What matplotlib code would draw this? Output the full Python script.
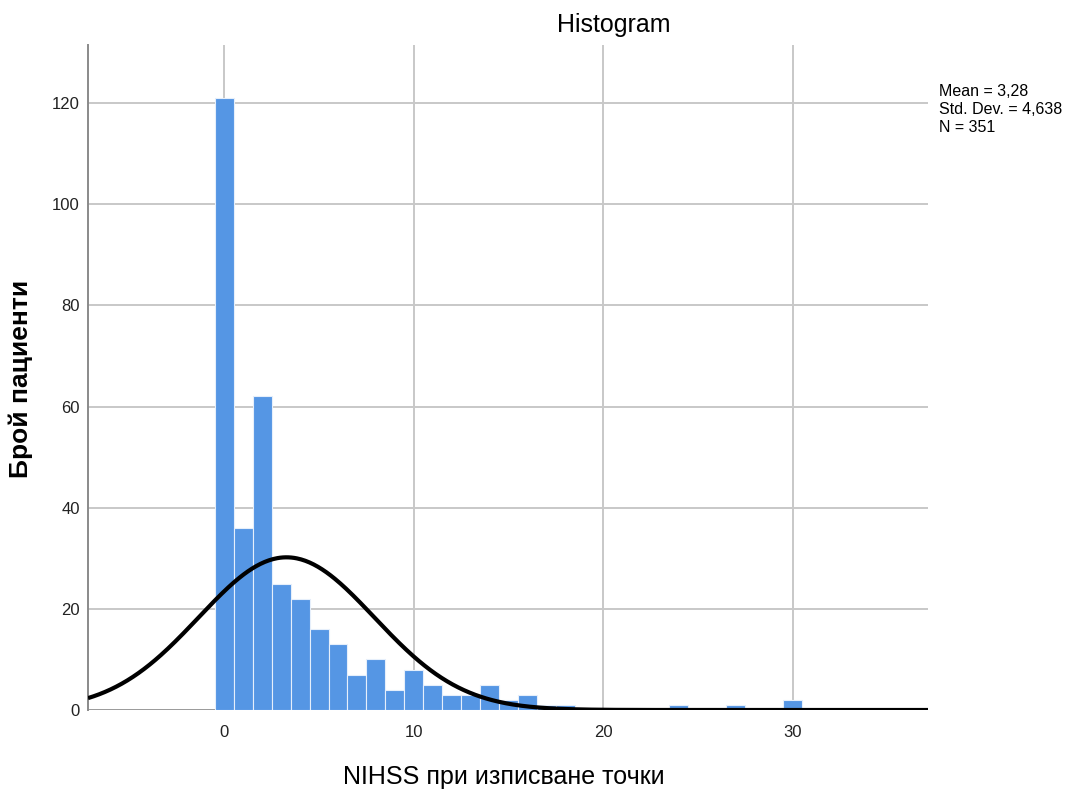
import numpy as np
import matplotlib
matplotlib.use("Agg")
import matplotlib.pyplot as plt

plt.rcParams['font.family'] = ['Liberation Sans', 'DejaVu Sans']

# Data (bin centres, counts)
scores = [0, 1, 2, 3, 4, 5, 6, 7, 8, 9, 10, 11, 12, 13, 14, 15, 16, 17, 18, 24, 27, 30]
counts = [121, 36, 62, 25, 22, 16, 13, 7, 10, 4, 8, 5, 3, 3, 5, 2, 3, 1, 1, 1, 1, 2]
mean_val = 3.28
std_val = 4.638
n_val = 351

title = "Histogram"
x_label = "NIHSS при изписване точки"
y_label = "Брой пациенти"
stats_lines = ["Mean = 3,28", "Std. Dev. = 4,638", "N = 351"]
y_ticks = [0, 20, 40, 60, 80, 100, 120]
x_ticks = [0, 10, 20, 30]

fig = plt.figure(figsize=(10.7, 7.93), dpi=100)
ax = fig.add_axes([88/1070, 1-710/793, (928-88)/1070, (710-45)/793])

xmin, xmax = -7.2, 37.15
ax.set_xlim(xmin, xmax)
ax.set_ylim(0, 131.5)

# grid
for y in y_ticks:
    ax.axhline(y, color='#c8c8c8' if y else '#9a9a9a', lw=1.4, zorder=0)
for x in x_ticks:
    ax.axvline(x, color='#c8c8c8', lw=1.4, zorder=0)

ax.bar(scores, counts, width=1.0, color='#5596e4', edgecolor='#e6effb',
       linewidth=0.8, zorder=2)

xs = np.linspace(xmin, xmax, 600)
pdf = n_val * 1.0 / (std_val * np.sqrt(2*np.pi)) * np.exp(-0.5*((xs-mean_val)/std_val)**2)
ax.plot(xs, pdf, color='black', lw=3.0, zorder=3, solid_capstyle='butt')

for s in ['top', 'right', 'bottom']:
    ax.spines[s].set_visible(False)
ax.spines['left'].set_color('#8a8a8a')
ax.spines['left'].set_linewidth(1.4)

ax.set_yticks(y_ticks)
ax.set_xticks(x_ticks)
ax.tick_params(axis='both', length=0, labelsize=12, colors='#222222')
ax.tick_params(axis='y', pad=6)
ax.tick_params(axis='x', pad=11)

fig.text(614/1070, 1-25/793, title, ha='center', va='center', fontsize=18, color='black')
fig.text(504/1070, 1-777/793, x_label, ha='center', va='center', fontsize=18, color='black')
fig.text(21/1070, 1-379/793, y_label, ha='center', va='center', rotation=90,
         fontsize=19, fontweight='bold', color='black')

for i, line in enumerate(stats_lines):
    fig.text(939/1070, 1-(91 + i*18.5)/793, line, ha='left', va='center',
             fontsize=11.5, color='black')

fig.savefig("out.png", dpi=100)
